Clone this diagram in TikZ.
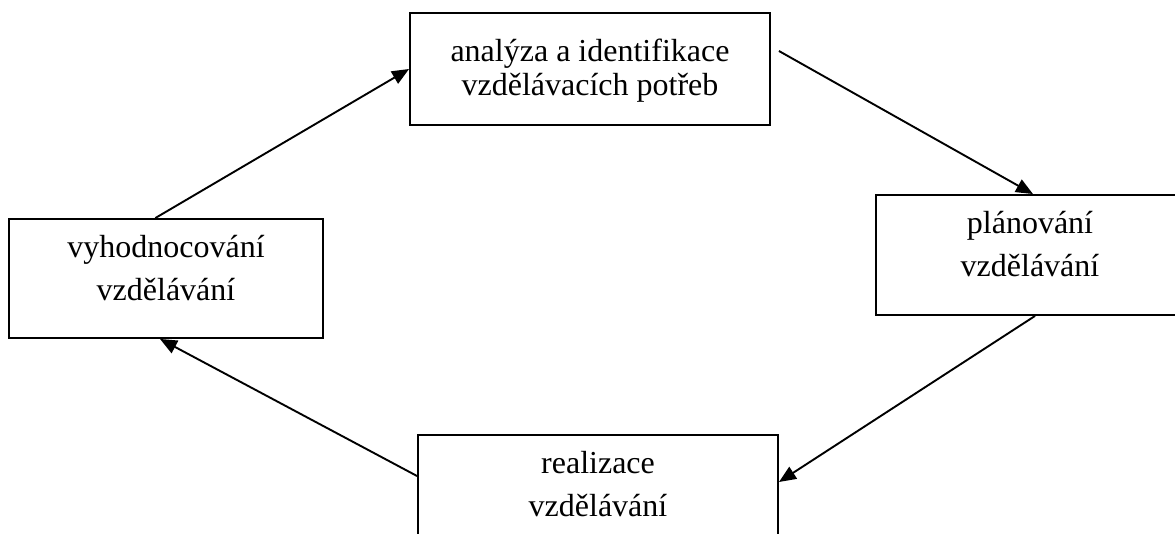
\documentclass[tikz,border=0pt]{standalone}
\usepackage{fontspec}
\setmainfont{Liberation Serif}
\usetikzlibrary{arrows.meta,positioning}

\begin{document}
\begin{tikzpicture}[x=1pt,y=-1pt,
  stagebox/.style={draw, line width=1.9pt, inner sep=0pt},
  stagetext/.style={align=center, inner sep=0pt, font=\fontsize{32}{43}\selectfont},
  flow/.style={line width=1.9pt, -{Triangle[length=17pt,width=14pt]}}]
\clip (0,0) rectangle (1175,533);
% the four stages of the cycle
\node[stagebox, minimum width=360pt, minimum height=112pt] (analyza) at (590,69) {};
\node[stagebox, minimum width=308pt, minimum height=120pt] (planovani) at (1030,255) {};
\node[stagebox, minimum width=360pt, minimum height=120pt] (realizace) at (598,495) {};
\node[stagebox, minimum width=314pt, minimum height=119pt] (vyhodnoceni) at (166,278.5) {};
\node[stagetext, font=\fontsize{32}{34}\selectfont, below=27pt of analyza.north] (analyzatext) {analýza a identifikace\\vzdělávacích potřeb};
\node[stagetext, below=17pt of planovani.north] (planovanitext) {plánování\\vzdělávání};
\node[stagetext, below=17pt of realizace.north] (realizacetext) {realizace\\vzdělávání};
\node[stagetext, below=17pt of vyhodnoceni.north] (vyhodnocenitext) {vyhodnocování\\vzdělávání};
% arrows
\draw[flow] (vyhodnoceni.100) -- (analyza.west);
\draw[flow] ([xshift=8pt,yshift=18pt]analyza.east) -- ([xshift=3pt]planovani.north);
\draw[flow] ([xshift=5pt]planovani.south) -- ([yshift=13pt]realizace.east);
\draw[flow] ([yshift=19pt]realizace.west) -- ([xshift=-6pt]vyhodnoceni.south);
\end{tikzpicture}
\end{document}
